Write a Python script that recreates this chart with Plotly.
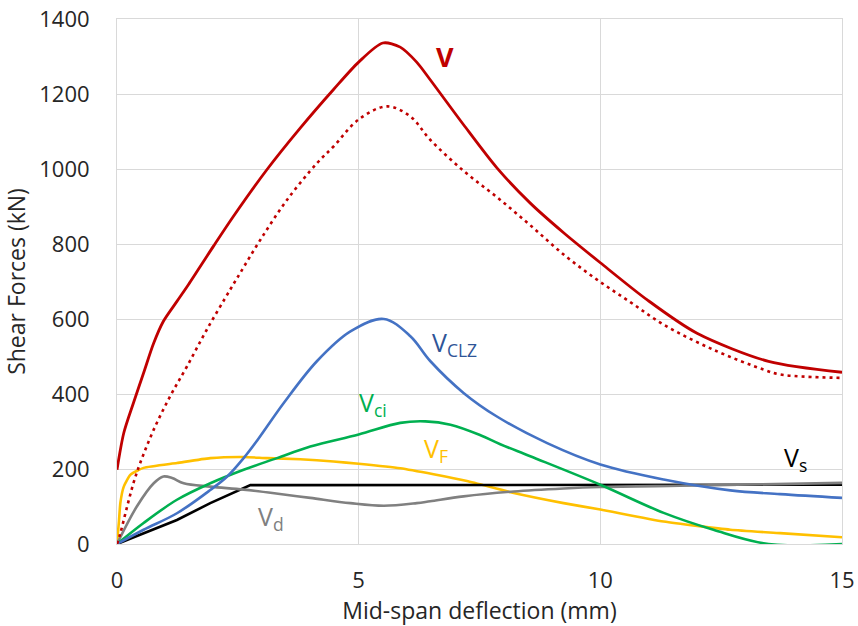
import plotly.graph_objects as go

# ---- data (mid-span deflection in mm, shear force in kN) ----
v_x = [0, 0.14, 0.34, 0.55, 0.76, 0.96, 1.24, 1.48, 2.0, 2.41, 3.1, 3.79, 4.48, 5.0, 5.5, 5.86, 6.2, 6.48, 7.17, 7.86, 8.55, 9.24, 10, 10.97, 12.0, 13.48, 15]
v_y = [198, 296, 376, 456, 536, 594, 647, 692, 795, 874, 998, 1109, 1212, 1285, 1336, 1325, 1285, 1238, 1118, 1003, 909, 830, 750, 651, 562, 487, 458]

vdot_x = [0, 0.07, 0.21, 0.34, 0.48, 0.76, 1.10, 1.45, 1.86, 2.34, 2.55, 2.97, 3.52, 4.14, 4.48, 5.0, 5.59, 6.07, 6.48, 7.17, 7.86, 8.55, 9.24, 9.93, 10.62, 11.31, 12.34, 13.38, 13.72, 15]
vdot_y = [0, 29, 100, 162, 216, 305, 394, 474, 572, 678, 723, 812, 918, 1016, 1060, 1132, 1167, 1140, 1078, 995, 925, 850, 772, 705, 645, 585, 518, 465, 452, 443]

clz_x = [0, 0.55, 1.24, 1.93, 2.28, 2.62, 2.90, 3.45, 4.14, 4.83, 5.52, 6.07, 6.48, 7.17, 7.86, 8.9, 10, 11.31, 12.69, 13.72, 15]
clz_y = [0, 38, 82, 144, 180, 229, 276, 376, 488, 567, 600, 554, 488, 403, 340, 269, 212, 172, 143, 133, 123]

ci_x = [0, 0.55, 1.24, 1.93, 2.62, 3.31, 4.0, 5.0, 5.86, 6.38, 6.9, 7.52, 7.93, 8.55, 10, 11.31, 12.34, 13.48, 15]
ci_y = [0, 56, 118, 162, 198, 229, 260, 292, 323, 327, 318, 290, 266, 234, 158, 83, 38, 0, 0]

f_x = [0, 0.04, 0.07, 0.14, 0.28, 0.55, 1.24, 1.93, 2.62, 3.1, 3.79, 4.48, 5.0, 5.86, 6.55, 7.24, 8.21, 9.24, 10, 11.31, 12.69, 13.72, 15]
f_y = [0, 60, 110, 153, 185, 203, 216, 229, 232, 229, 226, 220, 214, 202, 186, 168, 136, 109, 92, 60, 38, 29, 18]

d_x = [0, 0.41, 0.76, 0.96, 1.14, 1.38, 1.93, 2.62, 3.45, 4.0, 4.83, 5.52, 6.2, 6.48, 7.17, 8.21, 9.24, 10, 12, 15]
d_y = [0, 100, 162, 180, 176, 162, 153, 145, 132, 123, 109, 102, 109, 114, 127, 140, 148, 152, 156, 163]

s_x = [0, 0.55, 1.24, 1.93, 2.48, 2.76, 3.5, 15]
s_y = [0, 29, 64, 109, 140, 157, 157, 158]

x_ticks = [0, 5, 10, 15]
y_ticks = [0, 200, 400, 600, 800, 1000, 1200, 1400]

RED = "#c00000"
BLUE = "#4472c4"
GREEN = "#00b050"
YELLOW = "#ffc000"
GRAY = "#808080"
BLACK = "#000000"

fig = go.Figure()

def add(x, y, color, width=2.6, dash=None, shape="spline", smooth=1.0):
    line = dict(color=color, width=width, shape=shape)
    if shape == "spline":
        line["smoothing"] = smooth
    if dash:
        line["dash"] = dash
    fig.add_trace(go.Scatter(x=x, y=y, mode="lines", line=line, showlegend=False, hoverinfo="skip"))

add(f_x, f_y, YELLOW, smooth=0.5)
add(s_x, s_y, BLACK, shape="linear")
add(d_x, d_y, GRAY)
add(ci_x, ci_y, GREEN)
add(clz_x, clz_y, BLUE)
add(vdot_x, vdot_y, RED, dash="3px,4px")
add(v_x, v_y, RED, width=2.8, smooth=0.8)

FONT = "Open Sans"
def label(text, x, y, color, size=25, bold=False):
    fig.add_annotation(x=x, y=y, xref="x", yref="y", text=(f"<b>{text}</b>" if bold else text),
                       showarrow=False, xanchor="left", yanchor="middle",
                       font=dict(family=FONT, size=size, color=color))

label("V", 6.55, 1300, RED, size=27, bold=True)
label("V<sub>CLZ</sub>", 6.47, 536, "#2f5597")
label("V<sub>ci</sub>", 4.97, 375, GREEN)
label("V<sub>F</sub>", 6.32, 251, YELLOW)
label("V<sub>s</sub>", 13.75, 228, BLACK)
label("V<sub>d</sub>", 2.88, 72, GRAY)

axis_common = dict(showgrid=True, gridcolor="#d9d9d9", gridwidth=1,
                   showline=True, mirror=True, linecolor="#d9d9d9", linewidth=1,
                   zeroline=False, ticks="", automargin=False,
                   tickfont=dict(family=FONT, size=22, color="#262626"))

fig.update_layout(
    width=858, height=626,
    margin=dict(l=117, r=16, t=19, b=82, autoexpand=False),
    paper_bgcolor="white", plot_bgcolor="white",
    xaxis=dict(range=[0, 15], tickvals=x_ticks, ticktext=[str(v) for v in x_ticks],
               title=dict(text="Mid-span deflection (mm)", standoff=0,
                          font=dict(family=FONT, size=23, color="#262626")),
               ticklabelstandoff=17, **axis_common),
    yaxis=dict(range=[0, 1400], tickvals=y_ticks, ticktext=[str(v) for v in y_ticks],
               title=dict(text="Shear Forces (kN)", standoff=8,
                          font=dict(family=FONT, size=23, color="#262626")),
               ticklabelstandoff=22, **axis_common),
)

fig.write_html("out.html")
